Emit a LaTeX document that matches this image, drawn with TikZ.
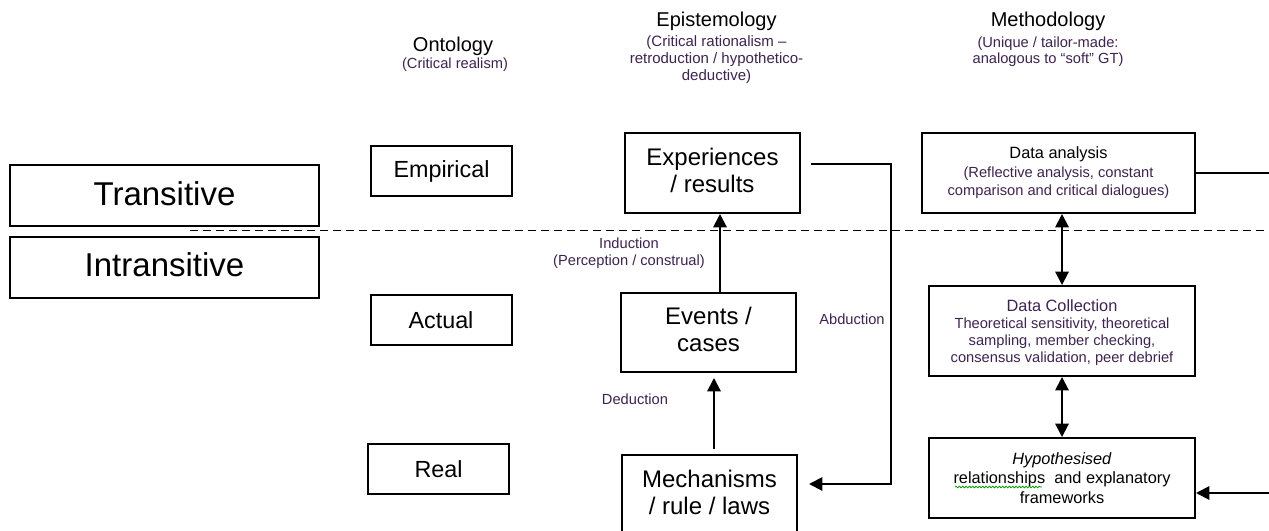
\documentclass[tikz,border=0pt]{standalone}
\usepackage{fontspec}
\setmainfont{Liberation Sans}
\usetikzlibrary{arrows.meta,calc,decorations.pathmorphing}
\definecolor{subtext}{HTML}{3F2350}
\newcommand\subline{\fontsize{11}{12}\selectfont\color{subtext}}
\begin{document}
\begin{tikzpicture}[x=0.75pt,y=-0.75pt,
  box/.style={draw, line width=1.5pt, inner sep=0pt, align=center, text=black},
  realm/.style={box, minimum width=231.75pt, minimum height=45.75pt, font=\fontsize{24.75}{28}\selectfont},
  levelbox/.style={box, minimum width=105.75pt, minimum height=37.5pt, font=\fontsize{17.5}{20}\selectfont},
  stagebox/.style={box, minimum width=131.25pt, minimum height=60pt, font=\fontsize{18}{20.25}\selectfont, text depth=4.5pt},
  methbox/.style={box, minimum width=199.5pt, minimum height=60pt},
  head/.style={font=\fontsize{15}{18}\selectfont, inner sep=0pt},
  headsub/.style={font=\fontsize{11}{12.25}\selectfont, text=subtext, inner sep=0pt, align=center},
  lbl/.style={font=\fontsize{11}{12.75}\selectfont, text=subtext, inner sep=0pt, align=center},
  conn/.style={line width=1.5pt},
  arr/.style={conn, -{Triangle[length=10pt,width=10pt]}},
  darr/.style={conn, {Triangle[length=10pt,width=10pt]}-{Triangle[length=10pt,width=10pt]}},
  divider/.style={line width=1.1pt, dash pattern=on 6pt off 3.75pt},
  spell/.style={green!60!black, line width=0.6pt, decorate, decoration={snake, amplitude=0.6pt, segment length=2.5pt}}
]
\useasboundingbox (0,0) rectangle (1269,531);
\clip (0,0) rectangle (1269,531);
\fill[white] (0,0) rectangle (1269,531);

% column headings
\node[head] (onto) at (453,46) {Ontology};
\node[headsub] (ontosub) at (455,65) {(Critical realism)};
\node[head] (epi) at (716.5,21) {Epistemology};
\node[headsub, font=\fontsize{11.25}{12.5}\selectfont] (episub) at (716.5,59.5) {(Critical rationalism –\\retroduction / hypothetico-\\deductive)};
\node[head] (meth) at (1048,21) {Methodology};
\node[headsub] (methsub) at (1048,52) {(Unique / tailor-made:\\analogous to “soft” GT)};

% domains
\node[realm, text depth=3pt] (trans) at (164.5,195.5) {Transitive};
\node[realm, text depth=4pt] (intrans) at (164.5,267.5) {Intransitive};

% ontological levels
\node[levelbox] (emp) at (441.5,171) {Empirical};
\node[levelbox] (act) at (441,320) {Actual};
\node[levelbox] (real) at (438.5,469) {Real};

% epistemology chain
\node[stagebox] (exp) at (712.5,173) {Experiences\\/ results};
\node[stagebox, minimum height=59.25pt] (evt) at (708.5,332.5) {Events /\\cases};
\node[stagebox] (mech) at (709.5,495) {Mechanisms\\/ rule / laws};

% methodology
\node[methbox, minimum width=204.75pt, font=\fontsize{12.25}{13.9}\selectfont] (dana) at (1058.5,173)
  {Data analysis\\{\subline (Reflective analysis, constant}\\{\subline comparison and critical dialogues)}};
\node[methbox, minimum height=67.5pt, font=\fontsize{12.25}{12.75}\selectfont, text depth=-3pt] (coll) at (1062,331)
  {{\color{subtext}Data Collection}\\{\subline Theoretical sensitivity, theoretical}\\{\subline sampling, member checking,}\\{\subline consensus validation, peer debrief}};
\node[methbox, font=\fontsize{12.25}{14.6}\selectfont] (hyp) at (1062,478)
  {\textit{Hypothesised}\\relationships\ \ and explanatory\\frameworks};
\draw[spell] (955,487) -- (1042,487);

% transitive / intransitive divide
\coordinate (divL) at (190,230.5);
\coordinate (divR) at (1269,230.5);
\draw[divider] (divL) -- (divR);

% labels
\node[lbl] (ind) at (629,253.5) {Induction\\(Perception / construal)};
\node[lbl] (ded) at (635,399) {Deduction};
\node[lbl] (abd) at (852,319) {Abduction};

% inference arrows
\draw[arr] ([shift={(11.5,0)}]evt.north) -- ([shift={(7.5,0)}]exp.south);
\draw[arr] ([shift={(4.5,-5)}]mech.north) -- ([shift={(5.5,5)}]evt.south);
\coordinate (abdStart) at ([shift={(10,-9)}]exp.east);
\coordinate (abdEnd) at ([shift={(11,-11)}]mech.east);
\draw[arr] (abdStart) -| ($(abdEnd)+(82,0)$) -- (abdEnd);

% methodology cycle
\draw[darr] (coll.north |- dana.south) -- (coll.north);
\draw[darr] (coll.south) -- (hyp.north);
\coordinate (edgeTop) at (1269,173);
\coordinate (edgeBot) at (1269,493);
\draw[conn] (dana.east) -- (edgeTop);
\draw[arr] (edgeBot) -- (hyp.east |- edgeBot);
\end{tikzpicture}
\end{document}
